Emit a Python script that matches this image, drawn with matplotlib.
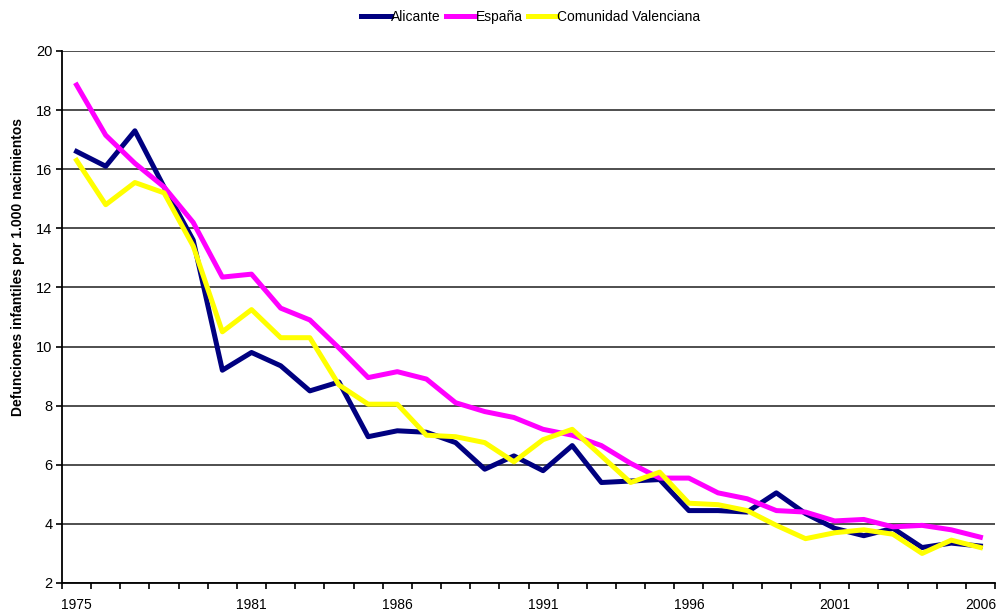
import matplotlib
matplotlib.use("Agg")
import matplotlib.pyplot as plt

plt.rcParams["font.family"] = ["Liberation Sans", "DejaVu Sans"]

years = list(range(1975, 2007))
label_years = [1975, 1981, 1986, 1991, 1996, 2001, 2006]

alicante = [16.6, 16.1, 17.3, 15.4, 13.6, 9.2, 9.8, 9.35, 8.5, 8.8,
            6.95, 7.15, 7.1, 6.75, 5.85, 6.3, 5.8, 6.65, 5.4, 5.45,
            5.5, 4.45, 4.45, 4.4, 5.05, 4.35, 3.85, 3.6, 3.85, 3.2,
            3.35, 3.25]
espana = [18.85, 17.15, 16.2, 15.4, 14.2, 12.35, 12.45, 11.3, 10.9, 9.95,
          8.95, 9.15, 8.9, 8.1, 7.8, 7.6, 7.2, 7.0, 6.65, 6.05,
          5.55, 5.55, 5.05, 4.85, 4.45, 4.4, 4.1, 4.15, 3.9, 3.95,
          3.8, 3.55]
cvalenciana = [16.3, 14.8, 15.55, 15.2, 13.4, 10.5, 11.25, 10.3, 10.3, 8.7,
               8.05, 8.05, 7.0, 6.95, 6.75, 6.1, 6.85, 7.2, 6.3, 5.4,
               5.75, 4.7, 4.65, 4.45, 3.95, 3.5, 3.7, 3.8, 3.65, 3.0,
               3.45, 3.2]

fig = plt.figure(figsize=(9.99, 6.12), dpi=100)
ax = fig.add_axes([62 / 999, 1 - 583 / 612, (995 - 62) / 999, (583 - 51) / 612])

x = range(len(years))
ax.plot(x, alicante, color="#000080", linewidth=3.6, label="Alicante")
ax.plot(x, espana, color="#FF00FF", linewidth=3.6, label="España")
ax.plot(x, cvalenciana, color="#FFFF00", linewidth=3.6, label="Comunidad Valenciana")

ax.set_xlim(-0.5, len(years) - 0.5)
ax.set_ylim(2, 20)
ax.set_yticks(range(2, 21, 2))
ax.yaxis.grid(True, color="#404040", linewidth=1.3)
ax.set_axisbelow(True)

# marcas en los límites de categoría, etiquetas sobre los años
ax.set_xticks([i - 0.5 for i in range(len(years) + 1)], minor=True)
ax.set_xticks([years.index(y) for y in label_years])
ax.set_xticklabels([str(y) for y in label_years])
ax.tick_params(axis="x", which="major", length=0, pad=11, labelsize=10)
ax.tick_params(axis="x", which="minor", length=4, width=1.2, direction="out")
ax.tick_params(axis="y", length=4, width=1.2, direction="out", labelsize=10.5, pad=3)

for s in ["top", "right"]:
    ax.spines[s].set_visible(False)
for s in ["left", "bottom"]:
    ax.spines[s].set_color("black")
    ax.spines[s].set_linewidth(1.3)

fig.text(18 / 999, 1 - 267 / 612, "Defunciones infantiles por 1.000 nacimientos",
         rotation=90, ha="center", va="center", fontsize=10, fontweight="bold")

fig.legend(loc="center", bbox_to_anchor=(531 / 999, 1 - 17 / 612), ncol=3,
           frameon=False, fontsize=10, handlelength=2.1, handletextpad=0.05,
           columnspacing=0.35)

plt.savefig("out.png", dpi=100)
plt.close()
